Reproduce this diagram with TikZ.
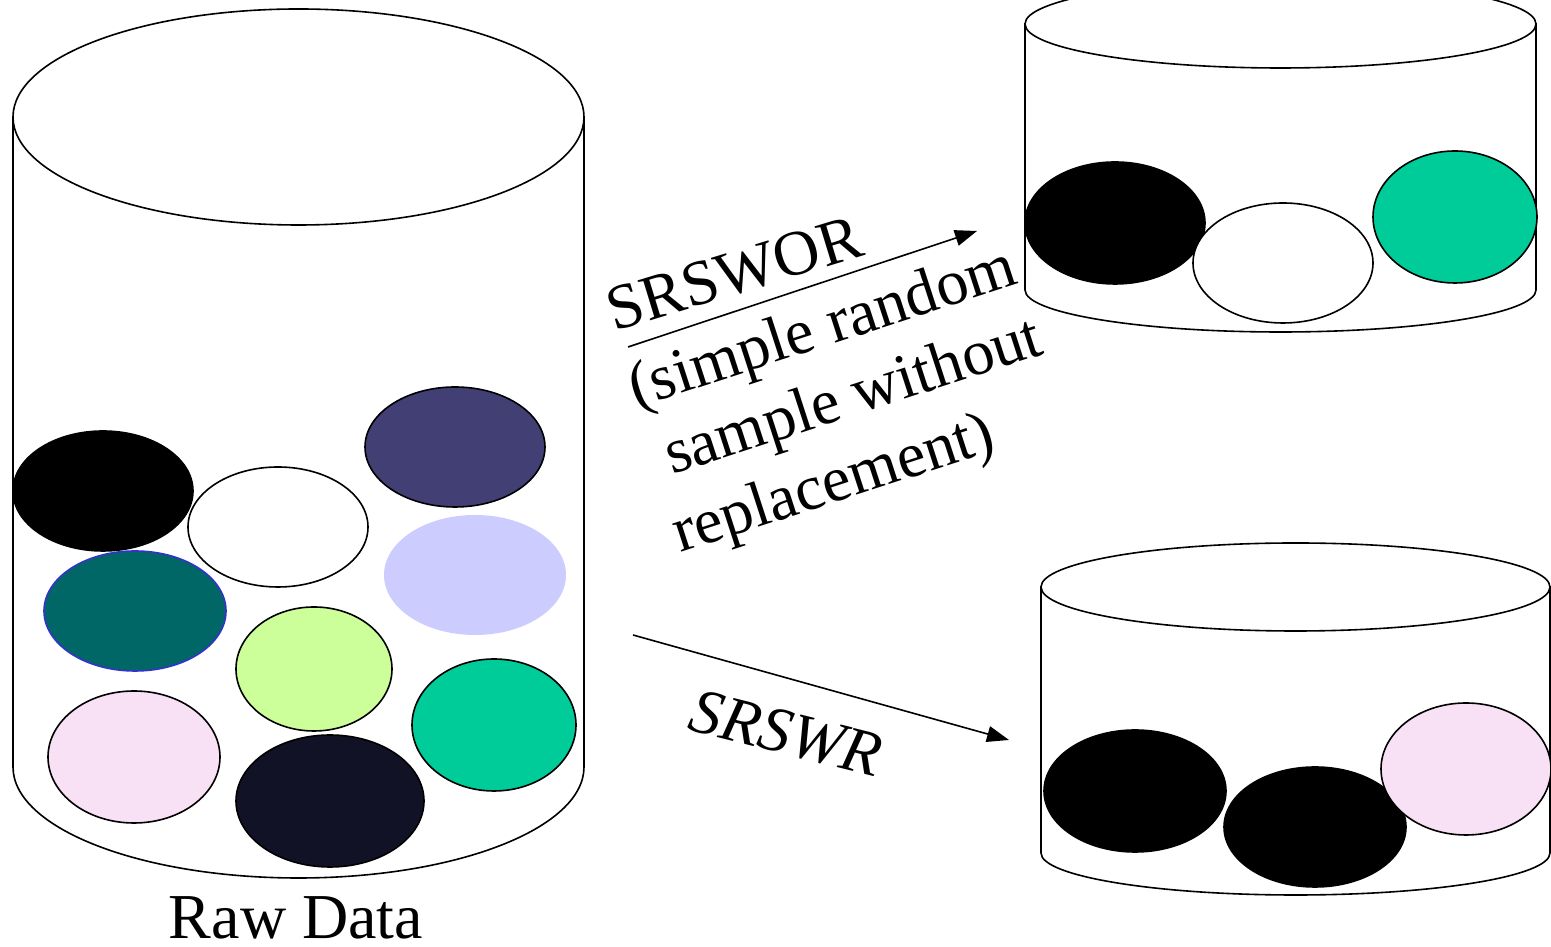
\documentclass[tikz,border=0pt]{standalone}
\usepackage{fontspec}
\setmainfont{Liberation Serif}
\usetikzlibrary{arrows.meta}
\definecolor{ballpurple}{RGB}{65,63,116}
\definecolor{balllavender}{RGB}{204,204,255}
\definecolor{ballteal}{RGB}{0,102,102}
\definecolor{tealrim}{RGB}{51,51,204}
\definecolor{balllime}{RGB}{204,255,153}
\definecolor{ballpink}{RGB}{248,225,245}
\definecolor{ballnavy}{RGB}{18,18,38}
\definecolor{ballgreen}{RGB}{0,204,153}
\tikzset{
  rim/.style={draw=black, line width=1.6pt, fill=white},
  ball/.style={draw=black, line width=1.6pt},
  flow/.style={draw=black, line width=1.6pt, -{Triangle[length=22pt,width=16pt]}},
  lbl/.style={font=\fontsize{64}{75}\selectfont, inner sep=0pt}
}
% cylinder: center x, x radius, top y, top y radius, bottom y, bottom y radius
\newcommand{\drumshape}[6]{%
  \path[rim] ({#1-#2},#3) -- ({#1-#2},#5)
    arc[start angle=180, end angle=360, x radius=#2, y radius=#6]
    -- ({#1+#2},#3) -- cycle;
  \path[rim] (#1,#3) ellipse[x radius=#2, y radius=#4];
}
\begin{document}
\begin{tikzpicture}[x=1pt,y=1pt]
\useasboundingbox (0,0) rectangle (1551,947);

% raw data container
\drumshape{298.5}{285.5}{830}{108}{180}{111}
\fill[ball, fill=black] (103,456) ellipse[x radius=90, y radius=60];
\fill[ball, fill=white] (278,420) ellipse[x radius=90, y radius=60];
\fill[ball, fill=ballpurple] (455,500) ellipse[x radius=90, y radius=60];
\fill[balllavender] (475,372) ellipse[x radius=91, y radius=60];
\fill[ball, draw=tealrim, fill=ballteal] (135,336) ellipse[x radius=91, y radius=60];
\fill[ball, fill=balllime] (314,278) ellipse[x radius=78, y radius=62];
\fill[ball, fill=ballpink] (134,190) ellipse[x radius=86, y radius=66];
\fill[ball, fill=ballnavy] (330,146) ellipse[x radius=94, y radius=66];
\fill[ball, fill=ballgreen] (494,222) ellipse[x radius=82, y radius=66];
\node[lbl, anchor=base] (raw) at (296,8) {Raw Data};

% sample without replacement
\drumshape{1280.5}{255.5}{923}{44}{657}{42}
\fill[ball, fill=black] (1115,724) ellipse[x radius=90, y radius=61];
\fill[ball, fill=white] (1283,684) ellipse[x radius=90, y radius=60];
\fill[ball, fill=ballgreen] (1455,730) ellipse[x radius=82, y radius=66];

% sample with replacement
\drumshape{1295.5}{254.5}{360}{44}{94}{42}
\fill[ball, fill=black] (1135,156) ellipse[x radius=91, y radius=61];
\fill[ball, fill=black] (1315,120) ellipse[x radius=91, y radius=60];
\fill[ball, fill=ballpink] (1466,178) ellipse[x radius=85, y radius=66];

% sampling arrows
\coordinate (worA) at (628,600);
\coordinate (worB) at (977,716);
\coordinate (wrA) at (633,312);
\coordinate (wrB) at (1009,207);
\draw[flow] (worA) -- (worB);
\draw[flow] (wrA) -- (wrB);

\node[lbl, anchor=base, rotate=17] (wor) at (740,654) {SRSWOR};
\node[lbl, anchor=base west, rotate=18] (worl1) at (636,539) {(simple random};
\node[lbl, anchor=base west, rotate=18] (worl2) at (672,472) {sample without};
\node[lbl, anchor=base west, rotate=18] (worl3) at (680,394) {replacement)};
\node[lbl, anchor=base, rotate=-14] (wr) at (781,194) {\itshape SRSWR};
\end{tikzpicture}
\end{document}
